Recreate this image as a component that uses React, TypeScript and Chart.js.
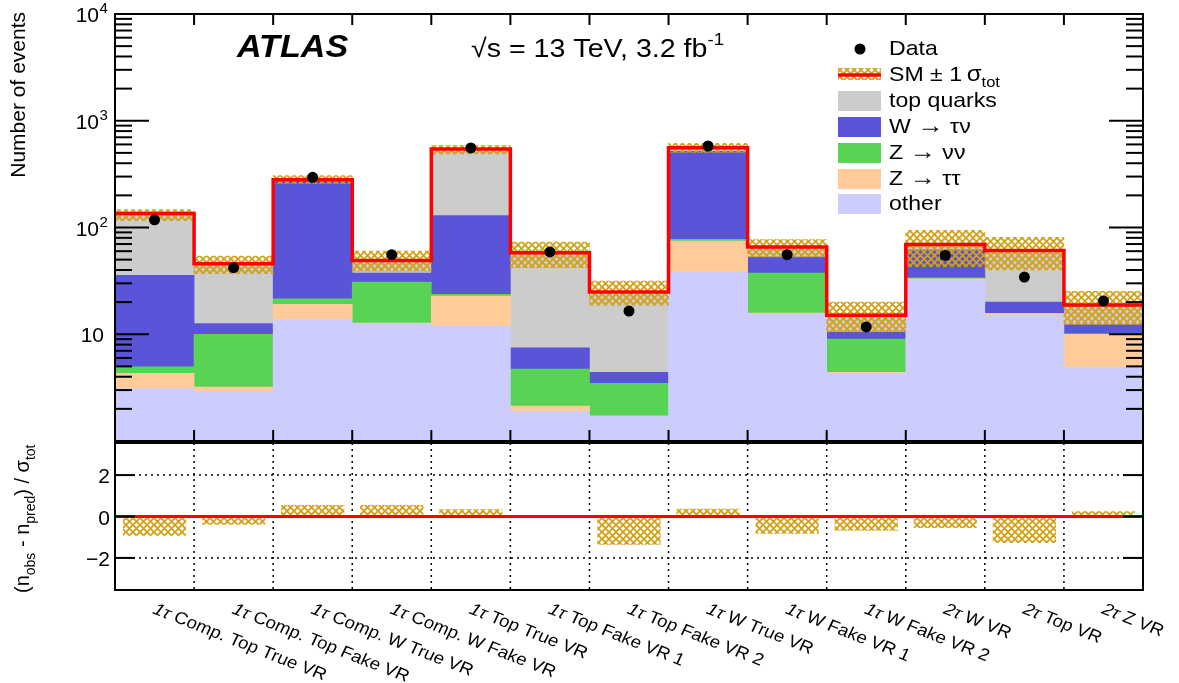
import React, { useEffect, useRef } from 'react';
import { Chart, registerables } from 'chart.js';
Chart.register(...registerables);

const FONT = '"Liberation Sans", Arial, Helvetica, sans-serif';

// ---- data ----
const regionLabels = [
  '1τ Comp. Top True VR', '1τ Comp. Top Fake VR', '1τ Comp. W True VR', '1τ Comp. W Fake VR',
  '1τ Top True VR', '1τ Top Fake VR 1', '1τ Top Fake VR 2', '1τ W True VR',
  '1τ W Fake VR 1', '1τ W Fake VR 2', '2τ W VR', '2τ Top VR', '2τ Z VR',
];
const otherBkg = [3.1, 2.9, 13.7, 12.6, 11.9, 1.9, 1.71, 38.3, 15.7, 4.3, 32, 15.1, 4.9];
const zTauTau = [1.2, 0.3, 5.4, 0.1, 10.9, 0.22, 0, 36.2, 0.1, 0.1, 1.0, 0.5, 5.1];
const zNuNu = [0.65, 6.8, 2.4, 18.1, 0.8, 2.6, 1.75, 2.8, 21.6, 4.6, 0.7, 0.1, 0.1];
const wTauNu = [30.6, 2.6, 257, 6.6, 106, 2.74, 0.95, 440, 15.4, 1.5, 28, 4.3, 2.2];
const topQuarks = [99.5, 33.2, 1.5, 11.8, 414, 50.5, 20.5, 42.7, 12.7, 4.6, 7.7, 41, 6.5];
const bandLow = [116, 37, 259, 39, 488, 42, 18.7, 506, 53, 10.5, 43, 40, 12.3];
const bandHigh = [147, 54, 306, 60, 584, 73, 31.5, 614, 77, 20, 94, 81, 25.2];
const dataObs = [118, 42, 295, 55.6, 556, 59, 16.5, 580, 55.6, 11.7, 54.7, 34.3, 20.5];
const significance = [-0.93, -0.4, 0.56, 0.56, 0.35, 0.03, -1.36, 0.37, -0.83, -0.69, -0.56, -1.28, 0.25];
const logMajorTicks = [10, 100, 1000, 10000];
const ratioTicks = [-2, 0, 2];

const C_OTHER = '#ccccff';
const C_ZTT = '#ffcc99';
const C_ZNN = '#59d354';
const C_W = '#5954d8';
const C_TOP = '#cccccc';
const C_RED = '#ff0000';
const C_HATCH = '#d4a017';
const SX = 1.1; // horizontal stretch of text as in reference

function makeHatch(ctx: CanvasRenderingContext2D) {
  const s = 7;
  const c = document.createElement('canvas');
  c.width = s; c.height = s;
  const g = c.getContext('2d')!;
  g.strokeStyle = C_HATCH;
  g.lineWidth = 1.8;
  g.beginPath();
  g.moveTo(-1, -1); g.lineTo(s + 1, s + 1);
  g.moveTo(-1, s + 1); g.lineTo(s + 1, -1);
  g.stroke();
  return ctx.createPattern(c, 'repeat')!;
}

type Seg = { t: string; size: number; dy?: number; style?: string };
function drawRich(ctx: CanvasRenderingContext2D, segs: Seg[], x: number, y: number) {
  let cx = x;
  for (const s of segs) {
    ctx.font = `${s.style || ''} ${s.size}px ${FONT}`;
    ctx.fillText(s.t, cx, y + (s.dy || 0));
    cx += ctx.measureText(s.t).width;
  }
  return cx;
}
function drawStretched(ctx: CanvasRenderingContext2D, segs: Seg[], x: number, y: number) {
  ctx.save();
  ctx.translate(x, y);
  ctx.scale(SX, 1);
  ctx.textAlign = 'left';
  drawRich(ctx, segs, 0, 0);
  ctx.restore();
}
function line(ctx: CanvasRenderingContext2D, x1: number, y1: number, x2: number, y2: number) {
  ctx.beginPath(); ctx.moveTo(x1, y1); ctx.lineTo(x2, y2); ctx.stroke();
}

export default function App() {
  const upRef = useRef<HTMLCanvasElement>(null);
  const loRef = useRef<HTMLCanvasElement>(null);

  useEffect(() => {
    const up = upRef.current!;
    const lo = loRef.current!;
    const uctx = up.getContext('2d')!;
    const lctx = lo.getContext('2d')!;
    const hatchU = makeHatch(uctx);
    const hatchL = makeHatch(lctx);
    const n = regionLabels.length;
    const idx = regionLabels.map((_, i) => i);

    const comps = [
      { label: 'other', values: otherBkg, color: C_OTHER },
      { label: 'Z → ττ', values: zTauTau, color: C_ZTT },
      { label: 'Z → νν', values: zNuNu, color: C_ZNN },
      { label: 'W → τν', values: wTauNu, color: C_W },
      { label: 'top quarks', values: topQuarks, color: C_TOP },
    ];
    const stackDatasets = comps.map((c, k) => ({
      type: 'bar' as const,
      label: c.label,
      data: idx.map((i) => {
        let base = 0;
        for (let j = 0; j < k; j++) base += comps[j].values[i];
        const top = base + c.values[i];
        return { x: i + 0.5, y: [Math.max(base, 1), Math.max(top, 1)] };
      }),
      backgroundColor: c.color,
      borderWidth: 0,
      barPercentage: 1,
      categoryPercentage: 1,
      grouped: false,
      order: 10 + k,
    }));
    const totals = idx.map((i) => comps.reduce((s, c) => s + c.values[i], 0));
    const totalLine = [...idx.map((i) => ({ x: i, y: totals[i] })), { x: n, y: totals[n - 1] }];

    const upperDecor = {
      id: 'upperDecor',
      afterDraw(chart: any) {
        const { ctx, chartArea: a, scales } = chart;
        const xs = scales.x, ys = scales.y;
        ctx.save();
        ctx.strokeStyle = '#000';
        ctx.fillStyle = '#000';
        ctx.lineWidth = 2;
        ctx.strokeRect(a.left, a.top, a.right - a.left, a.bottom - a.top);
        for (let e = 0; e <= 3; e++) {
          for (let m = 1; m <= 9; m++) {
            const v = m * Math.pow(10, e);
            if (v <= 1) continue;
            const py = ys.getPixelForValue(v);
            const len = m === 1 ? 34 : 17;
            line(ctx, a.left, py, a.left + len, py);
            line(ctx, a.right - len, py, a.right, py);
          }
        }
        for (let k = 1; k < n; k++) {
          const px = xs.getPixelForValue(k);
          line(ctx, px, a.bottom, px, a.bottom - 11);
          line(ctx, px, a.top, px, a.top + 11);
        }
        ctx.textBaseline = 'alphabetic';
        for (const v of logMajorTicks) {
          const py = ys.getPixelForValue(v);
          const exp = Math.round(Math.log10(v));
          ctx.font = `21px ${FONT}`;
          if (exp === 1) {
            ctx.textAlign = 'right';
            ctx.fillText('10', 104, py + 8);
          } else {
            ctx.textAlign = 'right';
            ctx.fillText('10', 99, py + 8);
            ctx.textAlign = 'left';
            ctx.font = `15px ${FONT}`;
            ctx.fillText(String(exp), 99.5, py - 1);
          }
        }
        ctx.save();
        ctx.translate(25, 12);
        ctx.rotate(-Math.PI / 2);
        ctx.textAlign = 'right';
        ctx.font = `21px ${FONT}`;
        ctx.fillText('Number of events', 0, 0);
        ctx.restore();
        drawStretched(ctx, [{ t: 'ATLAS', size: 31, style: 'italic bold' }], 237, 57);
        drawStretched(ctx, [
          { t: '√s = 13 TeV, 3.2 fb', size: 26 },
          { t: '-1', size: 17, dy: -12 },
        ], 471, 57);
        const lx = 838, lw = 43, tx = 889;
        const rows = [55, 81, 107, 133, 159, 185, 210];
        ctx.beginPath();
        ctx.arc(860, 49, 5.5, 0, Math.PI * 2);
        ctx.fill();
        ctx.fillStyle = hatchU;
        ctx.fillRect(lx, 68, lw, 12);
        ctx.strokeStyle = C_RED;
        ctx.lineWidth = 3.5;
        line(ctx, lx, 75, lx + lw, 75);
        const boxes = [C_TOP, C_W, C_ZNN, C_ZTT, C_OTHER];
        boxes.forEach((col, k) => {
          ctx.fillStyle = col;
          ctx.fillRect(lx, rows[k + 2] - 16, lw, 20);
        });
        ctx.fillStyle = '#000';
        drawStretched(ctx, [{ t: 'Data', size: 21 }], tx, rows[0]);
        drawStretched(ctx, [
          { t: 'SM ± 1\u2009', size: 21 },
          { t: 'σ', size: 22 },
          { t: 'tot', size: 15, dy: 6 },
        ], tx, rows[1]);
        drawStretched(ctx, [{ t: 'top quarks', size: 21 }], tx, rows[2]);
        drawStretched(ctx, [{ t: 'W ', size: 21 }, { t: '→', size: 24 }, { t: ' τν', size: 21 }], tx, rows[3]);
        drawStretched(ctx, [{ t: 'Z ', size: 21 }, { t: '→', size: 24 }, { t: ' νν', size: 21 }], tx, rows[4]);
        drawStretched(ctx, [{ t: 'Z ', size: 21 }, { t: '→', size: 24 }, { t: ' ττ', size: 21 }], tx, rows[5]);
        drawStretched(ctx, [{ t: 'other', size: 21 }], tx, rows[6]);
        ctx.restore();
      },
    };

    const upper = new Chart(uctx, {
      type: 'bar',
      data: {
        datasets: [
          ...stackDatasets,
          {
            type: 'bar' as const,
            label: 'SM band',
            data: idx.map((i) => ({ x: i + 0.5, y: [bandLow[i], bandHigh[i]] })),
            backgroundColor: hatchU,
            borderWidth: 0,
            barPercentage: 1,
            categoryPercentage: 1,
            grouped: false,
            order: 2,
          } as any,
          {
            type: 'line' as const,
            label: 'SM',
            data: totalLine,
            borderColor: C_RED,
            borderWidth: 3.5,
            pointRadius: 0,
            stepped: true,
            fill: false,
            order: 1,
          } as any,
          {
            type: 'line' as const,
            label: 'Data',
            data: idx.map((i) => ({ x: i + 0.5, y: dataObs[i] })),
            showLine: false,
            pointRadius: 5.5,
            pointBackgroundColor: '#000',
            pointBorderWidth: 0,
            order: 0,
          } as any,
        ] as any,
      },
      options: {
        animation: false,
        responsive: false,
        devicePixelRatio: 1,
        events: [],
        layout: { padding: { left: 115, right: 36, top: 14, bottom: 683 - 441 } },
        scales: {
          x: { type: 'linear', min: 0, max: n, offset: false, display: false },
          y: { type: 'logarithmic', min: 1, max: 10000, display: false },
        },
        plugins: { legend: { display: false }, tooltip: { enabled: false } },
      } as any,
      plugins: [upperDecor],
    });

    const lowerGrid = {
      id: 'lowerGrid',
      beforeDatasetsDraw(chart: any) {
        const { ctx, chartArea: a, scales } = chart;
        const xs = scales.x, ys = scales.y;
        ctx.save();
        ctx.strokeStyle = '#000';
        ctx.lineWidth = 1.5;
        ctx.setLineDash([2, 4]);
        for (let k = 1; k < n; k++) {
          const px = xs.getPixelForValue(k);
          line(ctx, px, a.top, px, a.bottom);
        }
        for (const v of ratioTicks) {
          if (v === 0) continue;
          const py = ys.getPixelForValue(v);
          line(ctx, a.left, py, a.right, py);
        }
        ctx.restore();
      },
      afterDraw(chart: any) {
        const { ctx, chartArea: a, scales } = chart;
        const xs = scales.x, ys = scales.y;
        ctx.save();
        ctx.strokeStyle = '#000';
        ctx.fillStyle = '#000';
        ctx.lineWidth = 2;
        ctx.strokeRect(a.left, a.top, a.right - a.left, a.bottom - a.top);
        for (const v of ratioTicks) {
          const py = ys.getPixelForValue(v);
          line(ctx, a.left, py, a.left + 20, py);
          line(ctx, a.right - 20, py, a.right, py);
          ctx.font = `21px ${FONT}`;
          ctx.textAlign = 'right';
          ctx.textBaseline = 'alphabetic';
          ctx.fillText(v < 0 ? '−' + Math.abs(v) : String(v), 110, py + 8);
        }
        ctx.save();
        ctx.translate(29, 593);
        ctx.rotate(-Math.PI / 2);
        ctx.textAlign = 'left';
        drawRich(ctx, [
          { t: '(n', size: 20 },
          { t: 'obs', size: 14, dy: 6 },
          { t: ' - n', size: 20 },
          { t: 'pred', size: 14, dy: 6 },
          { t: ') / σ', size: 20 },
          { t: 'tot', size: 14, dy: 6 },
        ], 0, 0);
        ctx.restore();
        const ang = 23.5 * Math.PI / 180;
        regionLabels.forEach((lab, i) => {
          const px = xs.getPixelForValue(i + 0.5);
          const sp = lab.indexOf(' ');
          ctx.save();
          ctx.translate(px + 3, 601);
          ctx.scale(SX, 1);
          ctx.rotate(ang);
          ctx.textAlign = 'left';
          ctx.textBaseline = 'alphabetic';
          drawRich(ctx, [
            { t: lab.slice(0, sp), size: 17, style: 'italic' },
            { t: lab.slice(sp), size: 17 },
          ], 0, 13);
          ctx.restore();
        });
        ctx.restore();
      },
    };

    const lower = new Chart(lctx, {
      type: 'bar',
      data: {
        datasets: [
          {
            type: 'line' as const,
            label: 'zero',
            data: [{ x: 0, y: 0 }, { x: n, y: 0 }],
            borderColor: C_RED,
            borderWidth: 3,
            pointRadius: 0,
            order: 0,
          } as any,
          {
            type: 'bar' as const,
            label: 'significance',
            data: idx.map((i) => ({ x: i + 0.5, y: [0, significance[i]] })),
            backgroundColor: hatchL,
            borderWidth: 0,
            barPercentage: 0.8,
            categoryPercentage: 1,
            grouped: false,
            order: 1,
          } as any,
        ] as any,
      },
      options: {
        animation: false,
        responsive: false,
        devicePixelRatio: 1,
        events: [],
        layout: { padding: { left: 115, right: 36, top: 443, bottom: 683 - 590 } },
        scales: {
          x: { type: 'linear', min: 0, max: n, offset: false, display: false },
          y: { type: 'linear', min: -3.55, max: 3.55, display: false },
        },
        plugins: { legend: { display: false }, tooltip: { enabled: false } },
      } as any,
      plugins: [lowerGrid],
    });

    return () => {
      upper.destroy();
      lower.destroy();
    };
  }, []);

  return (
    <div style={{ position: 'absolute', left: 0, top: 0, width: 1179, height: 683, background: '#fff' }}>
      <canvas ref={loRef} width={1179} height={683} style={{ position: 'absolute', left: 0, top: 0, width: 1179, height: 683 }} />
      <canvas ref={upRef} width={1179} height={683} style={{ position: 'absolute', left: 0, top: 0, width: 1179, height: 683 }} />
    </div>
  );
}
